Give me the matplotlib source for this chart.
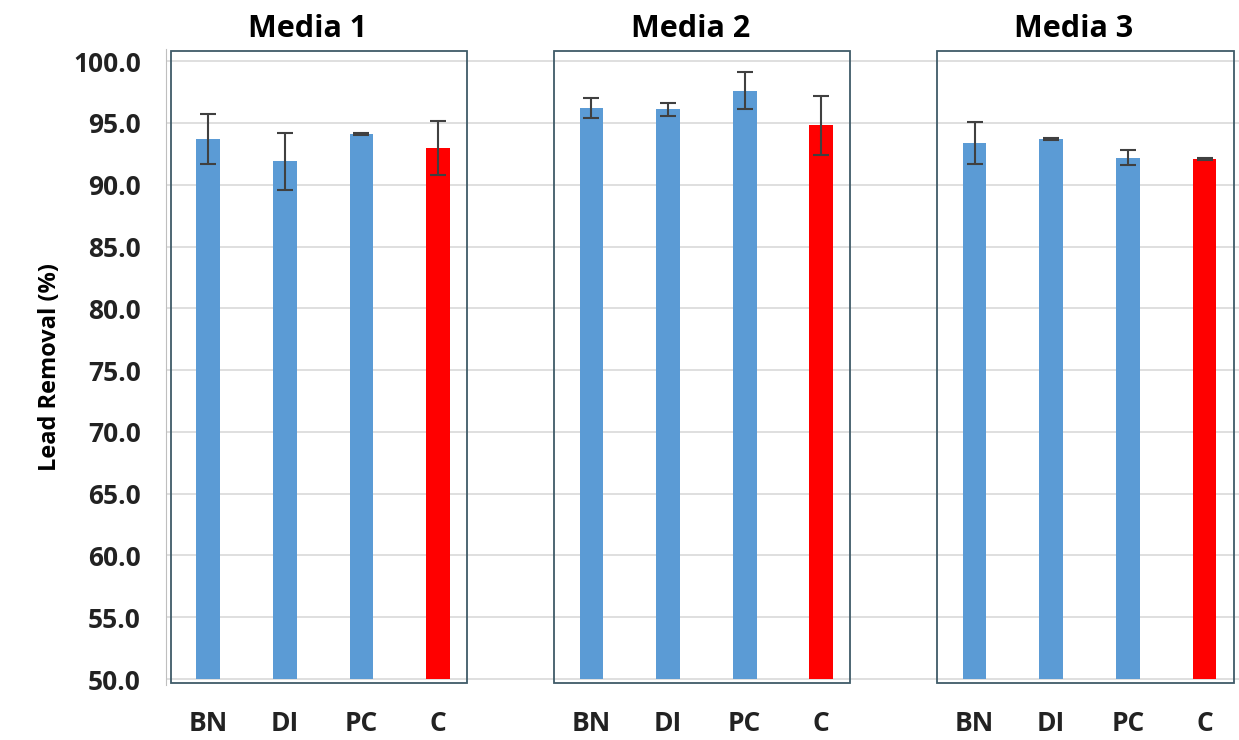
import numpy as np
import matplotlib
matplotlib.use("Agg")
import matplotlib.pyplot as plt
from matplotlib.patches import Rectangle

# data
groups = ["Media 1", "Media 2", "Media 3"]
labels = ["BN", "DI", "PC", "C"]
media1 = [93.7, 91.9, 94.1, 93.0]
media1_err = [2.05, 2.3, 0.1, 2.2]
media2 = [96.2, 96.1, 97.6, 94.8]
media2_err = [0.8, 0.5, 1.5, 2.4]
media3 = [93.4, 93.7, 92.2, 92.1]
media3_err = [1.7, 0.1, 0.6, 0.1]

blue = "#5b9bd5"
red = "#ff0000"
box_col = "#3f5b68"

plt.rcParams['font.family'] = ['Open Sans', 'DejaVu Sans']

fig = plt.figure(figsize=(12.39, 7.40), dpi=100)
ax = fig.add_axes([0.134, 0.074, 0.866, 0.86])

values = [media1, media2, media3]
errors = [media1_err, media2_err, media3_err]

xticks = []
xlabels = []
for g, (vals, errs) in enumerate(zip(values, errors)):
    x = np.arange(len(labels)) + g * 5
    cols = [blue] * (len(labels) - 1) + [red]
    ax.bar(x, np.array(vals) - 50, bottom=50, width=0.31, color=cols, zorder=2)
    ax.errorbar(x, vals, yerr=errs, fmt="none", ecolor="#404040",
                elinewidth=1.5, capsize=6, capthick=1.5, zorder=3)
    # frame round each group
    x0 = x[0] - 0.49
    x1 = x[-1] + 0.38
    ax.add_patch(Rectangle((x0, 49.65), x1 - x0, 51.2, fill=False,
                           edgecolor=box_col, linewidth=1.3, clip_on=False, zorder=4))
    ax.text((x0 + x1) / 2 - 0.15, 101.4, groups[g], ha="center", va="bottom",
            fontsize=22, fontweight="bold")
    xticks.extend(x)
    xlabels.extend(labels)

ax.set_xlim(-0.55, 13.45)
ax.set_ylim(49.5, 101)
ax.set_yticks(np.arange(50, 101, 5))
ax.set_yticklabels([f"{v:.1f}" for v in np.arange(50, 101, 5)])
ax.set_xticks(xticks)
ax.set_xticklabels(xlabels)
ax.tick_params(axis="both", length=0, labelsize=19)
ax.tick_params(axis="x", pad=18)
ax.tick_params(axis="y", pad=18)
for lbl in ax.get_xticklabels() + ax.get_yticklabels():
    lbl.set_fontweight("bold")
    lbl.set_color("#222222")

ax.yaxis.grid(True, color="#d9d9d9", linewidth=1.2, zorder=0)
ax.set_axisbelow(True)
for side in ["top", "right", "bottom"]:
    ax.spines[side].set_visible(False)
ax.spines["left"].set_color("#bfbfbf")

ax.set_ylabel("Lead Removal (%)", fontsize=17, fontweight="bold", labelpad=8)

fig.savefig("out.png", dpi=100)
